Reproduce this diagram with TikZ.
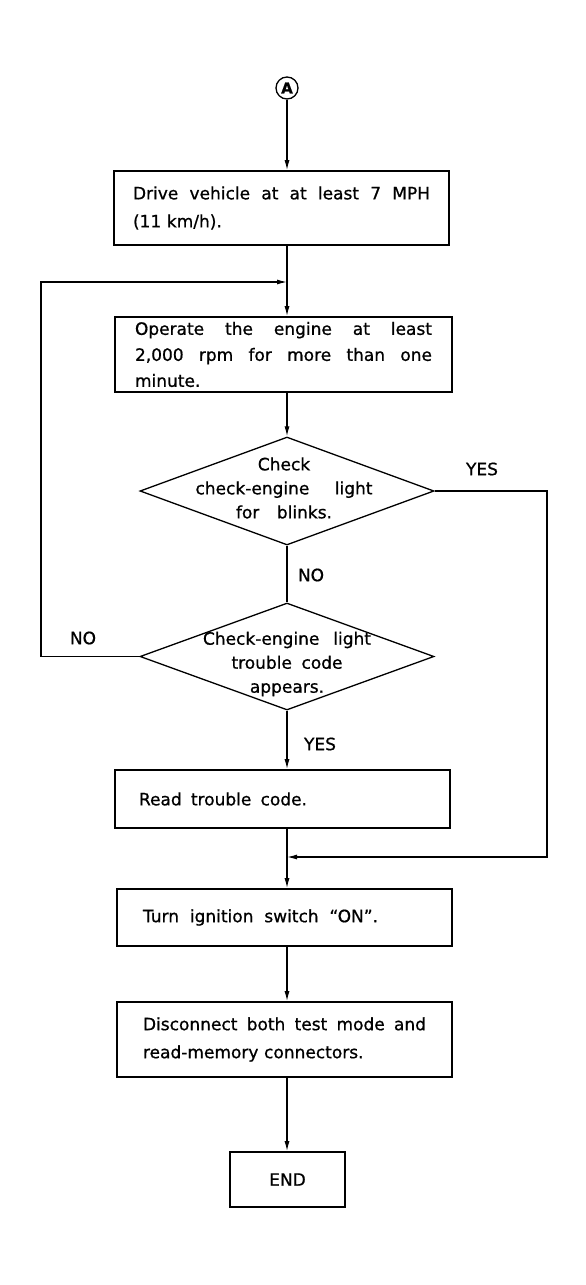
\documentclass[tikz,border=0pt]{standalone}
\usepackage{fontspec}
\setmainfont{DejaVu Sans}[FakeBold=0.8]
\usetikzlibrary{arrows.meta,shapes.geometric}
\newcommand{\jline}[2]{\makebox[#1][s]{\spaceskip=.318em plus 1fil minus .1em\relax #2}}
\begin{document}
\begin{tikzpicture}[x=1pt,y=-1pt,
  box/.style={draw, line width=1.7pt, inner sep=0pt, align=left, font=\fontsize{17}{28}\selectfont},
  dec/.style={draw, diamond, line width=1.3pt, inner sep=0pt},
  dtext/.style={inner sep=0pt, align=center, font=\fontsize{17}{24}\selectfont},
  lab/.style={inner sep=0pt, font=\fontsize{17}{20}\selectfont},
  ln/.style={line width=1.2pt},
  arr/.style={line width=1.2pt, -{Latex[length=10pt,width=5pt]}}]
\fill[white] (0,0) rectangle (586,1285);
\useasboundingbox (0,0) rectangle (586,1285);

\node[circle, draw, line width=1.3pt, minimum size=22pt, inner sep=0pt,
      font=\bfseries\fontsize{15}{15}\selectfont] (A) at (287,88) {A};

\node[box, minimum width=335pt, minimum height=74pt, text width=297pt] (b1) at (281.5,208)
  {\jline{297pt}{Drive vehicle at at least 7 MPH}\\(11 km/h).};

\node[box, minimum width=337pt, minimum height=75pt, text width=297pt,
      font=\fontsize{17}{26}\selectfont] (b2) at (283.5,354.5)
  {\jline{297pt}{Operate the engine at least}\\\jline{297pt}{2,000 rpm for more than one}\\minute.};

\node[dec, minimum width=294pt, minimum height=108pt] (d1) at (287,491) {};
\node[dtext] (dt1) at (284,488)
  {Check\\\jline{177pt}{check-engine light}\\\jline{96pt}{for blinks.}};

\node[dec, minimum width=294pt, minimum height=107pt] (d2) at (287,656.5) {};
\node[dtext] (dt2) at (287,664)
  {\jline{168pt}{Check-engine light}\\\jline{111pt}{trouble code}\\appears.};

\node[box, minimum width=335pt, minimum height=58pt, text width=287pt] (b3) at (282.5,799)
  {\jline{168pt}{Read trouble code.}};

\node[box, minimum width=335pt, minimum height=57pt, text width=283pt] (b4) at (284.5,917.5)
  {\jline{235pt}{Turn ignition switch “ON”.}};

\node[box, minimum width=335pt, minimum height=75pt, text width=283pt] (b5) at (284.5,1039.5)
  {\jline{283pt}{Disconnect both test mode and}\\read-memory connectors.};

\node[box, minimum width=115pt, minimum height=55pt, align=center] (end) at (287.5,1179.5) {END};

\node[lab] (yes1) at (482,469) {YES};
\node[lab] (no1) at (311,575) {NO};
\node[lab] (no2) at (83,638) {NO};
\node[lab] (yes2) at (320,744) {YES};

\coordinate (lp) at (41,282);
\coordinate (rp) at (547,857);

\draw[arr] (A) -- (A |- b1.north);
\draw[arr] (b1.south -| A) -- (b2.north -| A);
\draw[arr] (b2.south -| A) -- (d1.north);
\draw[ln] (d1.south) -- (d2.north);
\draw[arr] (d2.south) -- (b3.north -| A);
\draw[arr] (b3.south -| A) -- (b4.north -| A);
\draw[arr] (b4.south -| A) -- (b5.north -| A);
\draw[arr] (b5.south -| A) -- (end.north -| A);
\draw[arr] (d2.west) -| (lp) -- (A |- lp);
\draw[arr] (d1.east) -| (rp) -- (A |- rp);
\end{tikzpicture}
\end{document}
